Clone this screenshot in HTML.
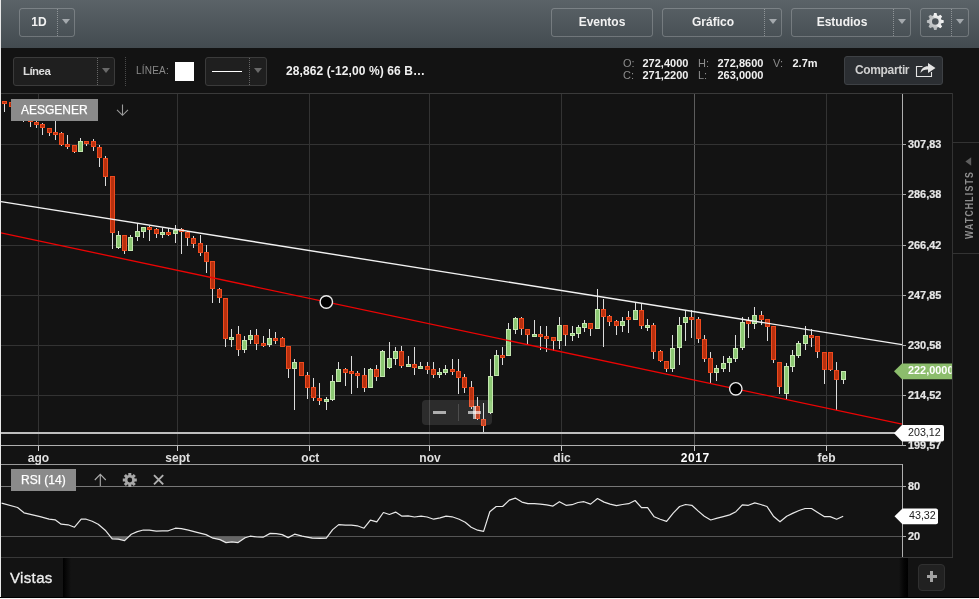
<!DOCTYPE html>
<html>
<head>
<meta charset="utf-8">
<title>Chart</title>
<style>
*{box-sizing:border-box;margin:0;padding:0}
html,body{width:979px;height:599px;overflow:hidden;background:#131313}
body{position:relative;will-change:transform;font-family:"Liberation Sans",sans-serif;color:#eee}
.abs{position:absolute}
#edgeL{left:0;top:0;width:1px;height:599px;background:#e9e9e9}
#edgeB1{left:0;top:597px;width:979px;height:1px;background:#000}
#edgeB2{left:0;top:598px;width:979px;height:1px;background:#f4f4f4}
#tb{left:1px;top:0;width:978px;height:48px;background:linear-gradient(#5b6368,#434b50)}
.btn{position:absolute;top:8px;height:29px;border:1px solid rgba(255,255,255,.22);border-radius:3px;font-weight:bold;font-size:12px;line-height:27px;color:#f2f2f2;text-align:center}
.dv{position:absolute;top:0;width:0;height:27px;border-left:1px dotted rgba(255,255,255,.35)}
.tri{position:absolute;width:8px;height:5px;background:#a4a9ad;clip-path:polygon(0 0,100% 0,50% 100%)}
.sel{position:absolute;top:57px;height:29px;border:1px solid #3b3b3b;border-radius:3px;background:#1f1f1f}
.sel .dv{border-left-color:#666}
.sel .tri{background:#696969}
.lab{position:absolute;font-size:11px;line-height:12px;color:#8c8c8c;white-space:nowrap}
.val{position:absolute;font-size:11px;line-height:12px;color:#f0f0f0;font-weight:bold;white-space:nowrap}
.ax{position:absolute;font-size:10px;line-height:12px;font-weight:bold;color:#e6e6e6;white-space:nowrap;-webkit-text-stroke:.2px #e6e6e6;transform:scale(1.09,1);transform-origin:0 50%}
.mon{position:absolute;top:451px;width:60px;margin-left:-30px;text-align:center;font-size:12px;line-height:14px;font-weight:bold;color:#e0e0e0}
</style>
</head>
<body>
<!-- top toolbar -->
<div class="abs" id="tb"></div>
<div class="btn" style="left:19px;width:56px"><span class="abs" style="left:0;width:38px;top:0">1D</span><i class="dv" style="left:37px"></i><i class="tri" style="left:42px;top:10px"></i></div>
<div class="btn" style="left:551px;width:102px">Eventos</div>
<div class="btn" style="left:662px;width:120px"><span class="abs" style="left:-1px;width:102px;top:0">Gráfico</span><i class="dv" style="left:101px"></i><i class="tri" style="left:106px;top:10px"></i></div>
<div class="btn" style="left:791px;width:120px"><span class="abs" style="left:-1px;width:102px;top:0">Estudios</span><i class="dv" style="left:101px"></i><i class="tri" style="left:106px;top:10px"></i></div>
<div class="btn" style="left:920px;width:49px"><i class="dv" style="left:30px"></i><i class="tri" style="left:35px;top:10px"></i>
<svg class="abs" style="left:4px;top:2px" width="20" height="20" viewBox="-10.3 -10.5 20 20"><defs><linearGradient id="gg" x1="0" y1="0" x2="0" y2="1"><stop offset="0" stop-color="#f6f6f6"/><stop offset="1" stop-color="#b4b7b9"/></linearGradient></defs>
<g fill="url(#gg)"><circle r="6.3"/><g id="t"><polygon points="-2,-5 -1.25,-8.4 1.25,-8.4 2,-5 2,5 1.25,8.4 -1.25,8.4 -2,5"/></g><use href="#t" transform="rotate(45)"/><use href="#t" transform="rotate(90)"/><use href="#t" transform="rotate(135)"/></g><circle r="3.3" fill="#4d5459"/></svg></div>

<!-- second toolbar -->
<div class="sel" style="left:13px;width:102px"><span class="abs" style="left:9px;top:0;line-height:27px;font-size:11.5px;font-weight:bold;color:#ddd;letter-spacing:-.55px">Línea</span><i class="dv" style="left:83px"></i><i class="tri" style="left:88px;top:10px"></i></div>
<div class="abs" style="left:125px;top:57px;width:0;height:29px;border-left:1px dotted #4a4a4a"></div>
<div class="abs" style="left:136px;top:65px;font-size:10px;line-height:12px;color:#8a8a8a;letter-spacing:.2px">LÍNEA:</div>
<div class="abs" style="left:175px;top:62px;width:19px;height:19px;background:#fff"></div>
<div class="sel" style="left:205px;width:62px"><i class="abs" style="left:6px;top:13px;width:30px;height:1px;background:#fff"></i><i class="dv" style="left:43px"></i><i class="tri" style="left:48px;top:10px"></i></div>
<div class="abs" style="left:286px;top:64px;font-size:12px;line-height:14px;font-weight:bold;color:#f0f0f0;white-space:nowrap;letter-spacing:.1px">28,862 (-12,00 %) 66 B…</div>
<div class="lab" style="left:623px;top:57px">O:</div><div class="val" style="left:642.5px;top:57px">272,4000</div>
<div class="lab" style="left:698px;top:57px">H:</div><div class="val" style="left:717.5px;top:57px">272,8600</div>
<div class="lab" style="left:773px;top:57px">V:</div><div class="val" style="left:792.5px;top:57px">2.7m</div>
<div class="lab" style="left:623px;top:69px">C:</div><div class="val" style="left:642.5px;top:69px">271,2200</div>
<div class="lab" style="left:698px;top:69px">L:</div><div class="val" style="left:717.5px;top:69px">263,0000</div>
<div class="abs" style="left:844px;top:56px;width:99px;height:29px;border:1px solid #3e4145;border-radius:3px;background:#2b2e32"><span class="abs" style="left:10px;top:0;line-height:27px;font-size:12px;font-weight:bold;color:#d0d0d0;letter-spacing:-.35px">Compartir</span>
<svg class="abs" style="left:70px;top:4px" width="22" height="17" viewBox="0 0 22 17"><path d="M7.5 5.5H1.5V15.5H16.5V11" fill="none" stroke="#e4e4e4" stroke-width="1.1"/><path d="M5.5 12C6 7.5 9 5.2 13 5.2V2L20.5 7L13 12V8.6C9.6 8.5 7.2 9.6 5.5 12Z" fill="#e4e4e4"/></svg></div>

<!-- chart -->
<svg class="abs" style="left:0;top:0" width="979" height="599" viewBox="0 0 979 599" shape-rendering="crispEdges">
<rect x="1" y="93" width="952" height="1" fill="#3a3a3a"/>
<rect x="952" y="93" width="1" height="465" fill="#333"/>
<rect x="1" y="557" width="952" height="1" fill="#383838"/>
<rect x="953" y="142" width="26" height="1" fill="#333"/><rect x="953" y="253" width="26" height="1" fill="#333"/>
<rect x="38" y="94" width="1" height="357" fill="#333"/><rect x="177" y="94" width="1" height="357" fill="#333"/><rect x="309" y="94" width="1" height="357" fill="#333"/><rect x="429" y="94" width="1" height="357" fill="#333"/><rect x="561" y="94" width="1" height="357" fill="#333"/><rect x="694" y="94" width="1" height="357" fill="#5c5c5c"/><rect x="826" y="94" width="1" height="357" fill="#333"/><rect x="38" y="446" width="1" height="5" fill="#c8c8c8"/><rect x="177" y="446" width="1" height="5" fill="#c8c8c8"/><rect x="309" y="446" width="1" height="5" fill="#c8c8c8"/><rect x="429" y="446" width="1" height="5" fill="#c8c8c8"/><rect x="561" y="446" width="1" height="5" fill="#c8c8c8"/><rect x="694" y="446" width="1" height="5" fill="#c8c8c8"/><rect x="826" y="446" width="1" height="5" fill="#c8c8c8"/>
<rect x="1" y="144" width="901" height="1" fill="#333"/><rect x="903" y="144" width="3" height="1" fill="#aaa"/><rect x="1" y="194" width="901" height="1" fill="#333"/><rect x="903" y="194" width="3" height="1" fill="#aaa"/><rect x="1" y="245" width="901" height="1" fill="#333"/><rect x="903" y="245" width="3" height="1" fill="#aaa"/><rect x="1" y="295" width="901" height="1" fill="#333"/><rect x="903" y="295" width="3" height="1" fill="#aaa"/><rect x="1" y="345" width="901" height="1" fill="#333"/><rect x="903" y="345" width="3" height="1" fill="#aaa"/><rect x="1" y="395" width="901" height="1" fill="#333"/><rect x="903" y="395" width="3" height="1" fill="#aaa"/>
<rect x="902" y="94" width="1" height="352" fill="#b0b0b0"/>
<rect x="1" y="445" width="905" height="1" fill="#b0b0b0"/>
<rect x="1" y="464" width="902" height="1" fill="#999"/>
<rect x="902" y="464" width="1" height="93" fill="#b0b0b0"/>
<rect x="1" y="486" width="901" height="1" fill="#777"/><rect x="903" y="486" width="3" height="1" fill="#aaa"/>
<rect x="1" y="536" width="901" height="1" fill="#555"/><rect x="903" y="536" width="3" height="1" fill="#aaa"/>
<rect x="4" y="101" width="1" height="11" fill="#dcdcdc"/>
<rect x="2" y="101" width="5" height="3" fill="#ee4a1e"/>
<rect x="3" y="102" width="3" height="1" fill="#b8300e"/>
<rect x="11" y="102" width="1" height="5" fill="#dcdcdc"/>
<rect x="9" y="102" width="5" height="5" fill="#ee4a1e"/>
<rect x="10" y="103" width="3" height="3" fill="#b8300e"/>
<rect x="17" y="104" width="1" height="8" fill="#dcdcdc"/>
<rect x="15" y="106" width="5" height="3" fill="#ee4a1e"/>
<rect x="16" y="107" width="3" height="1" fill="#b8300e"/>
<rect x="23" y="108" width="1" height="14" fill="#dcdcdc"/>
<rect x="21" y="110" width="5" height="4" fill="#ee4a1e"/>
<rect x="22" y="111" width="3" height="2" fill="#b8300e"/>
<rect x="30" y="117" width="1" height="10" fill="#dcdcdc"/>
<rect x="28" y="119" width="5" height="3" fill="#ee4a1e"/>
<rect x="29" y="120" width="3" height="1" fill="#b8300e"/>
<rect x="36" y="121" width="1" height="7" fill="#dcdcdc"/>
<rect x="34" y="122" width="5" height="3" fill="#ee4a1e"/>
<rect x="35" y="123" width="3" height="1" fill="#b8300e"/>
<rect x="42" y="123" width="1" height="12" fill="#dcdcdc"/>
<rect x="40" y="124" width="5" height="4" fill="#ee4a1e"/>
<rect x="41" y="125" width="3" height="2" fill="#b8300e"/>
<rect x="49" y="128" width="1" height="8" fill="#dcdcdc"/>
<rect x="47" y="128" width="5" height="5" fill="#ee4a1e"/>
<rect x="48" y="129" width="3" height="3" fill="#b8300e"/>
<rect x="55" y="115" width="1" height="25" fill="#dcdcdc"/>
<rect x="53" y="132" width="5" height="3" fill="#ee4a1e"/>
<rect x="54" y="133" width="3" height="1" fill="#b8300e"/>
<rect x="61" y="132" width="1" height="14" fill="#dcdcdc"/>
<rect x="59" y="133" width="5" height="12" fill="#ee4a1e"/>
<rect x="60" y="134" width="3" height="10" fill="#b8300e"/>
<rect x="67" y="135" width="1" height="14" fill="#dcdcdc"/>
<rect x="65" y="144" width="5" height="3" fill="#ee4a1e"/>
<rect x="66" y="145" width="3" height="1" fill="#b8300e"/>
<rect x="74" y="145" width="1" height="8" fill="#dcdcdc"/>
<rect x="72" y="145" width="5" height="7" fill="#ee4a1e"/>
<rect x="73" y="146" width="3" height="5" fill="#b8300e"/>
<rect x="80" y="138" width="1" height="14" fill="#dcdcdc"/>
<rect x="78" y="141" width="5" height="11" fill="#c4e6b0"/>
<rect x="79" y="142" width="3" height="9" fill="#8cc873"/>
<rect x="86" y="141" width="1" height="5" fill="#dcdcdc"/>
<rect x="84" y="141" width="5" height="3" fill="#ee4a1e"/>
<rect x="85" y="142" width="3" height="1" fill="#b8300e"/>
<rect x="93" y="139" width="1" height="12" fill="#dcdcdc"/>
<rect x="91" y="141" width="5" height="6" fill="#ee4a1e"/>
<rect x="92" y="142" width="3" height="4" fill="#b8300e"/>
<rect x="99" y="145" width="1" height="22" fill="#dcdcdc"/>
<rect x="97" y="147" width="5" height="11" fill="#ee4a1e"/>
<rect x="98" y="148" width="3" height="9" fill="#b8300e"/>
<rect x="105" y="156" width="1" height="30" fill="#dcdcdc"/>
<rect x="103" y="158" width="5" height="19" fill="#ee4a1e"/>
<rect x="104" y="159" width="3" height="17" fill="#b8300e"/>
<rect x="112" y="176" width="1" height="73" fill="#dcdcdc"/>
<rect x="110" y="176" width="5" height="57" fill="#ee4a1e"/>
<rect x="111" y="177" width="3" height="55" fill="#b8300e"/>
<rect x="118" y="231" width="1" height="18" fill="#dcdcdc"/>
<rect x="116" y="235" width="5" height="13" fill="#c4e6b0"/>
<rect x="117" y="236" width="3" height="11" fill="#8cc873"/>
<rect x="124" y="235" width="1" height="19" fill="#dcdcdc"/>
<rect x="122" y="235" width="5" height="16" fill="#ee4a1e"/>
<rect x="123" y="236" width="3" height="14" fill="#b8300e"/>
<rect x="130" y="235" width="1" height="16" fill="#dcdcdc"/>
<rect x="128" y="237" width="5" height="14" fill="#c4e6b0"/>
<rect x="129" y="238" width="3" height="12" fill="#8cc873"/>
<rect x="137" y="223" width="1" height="18" fill="#dcdcdc"/>
<rect x="135" y="231" width="5" height="6" fill="#c4e6b0"/>
<rect x="136" y="232" width="3" height="4" fill="#8cc873"/>
<rect x="143" y="227" width="1" height="11" fill="#dcdcdc"/>
<rect x="141" y="227" width="5" height="5" fill="#c4e6b0"/>
<rect x="142" y="228" width="3" height="3" fill="#8cc873"/>
<rect x="149" y="226" width="1" height="15" fill="#dcdcdc"/>
<rect x="147" y="227" width="5" height="3" fill="#ee4a1e"/>
<rect x="148" y="228" width="3" height="1" fill="#b8300e"/>
<rect x="156" y="228" width="1" height="10" fill="#dcdcdc"/>
<rect x="154" y="229" width="5" height="5" fill="#ee4a1e"/>
<rect x="155" y="230" width="3" height="3" fill="#b8300e"/>
<rect x="162" y="228" width="1" height="10" fill="#dcdcdc"/>
<rect x="160" y="232" width="5" height="3" fill="#c4e6b0"/>
<rect x="161" y="233" width="3" height="1" fill="#8cc873"/>
<rect x="168" y="228" width="1" height="8" fill="#dcdcdc"/>
<rect x="166" y="232" width="5" height="3" fill="#ee4a1e"/>
<rect x="167" y="233" width="3" height="1" fill="#b8300e"/>
<rect x="175" y="225" width="1" height="18" fill="#dcdcdc"/>
<rect x="173" y="230" width="5" height="4" fill="#c4e6b0"/>
<rect x="174" y="231" width="3" height="2" fill="#8cc873"/>
<rect x="181" y="228" width="1" height="26" fill="#dcdcdc"/>
<rect x="179" y="229" width="5" height="3" fill="#ee4a1e"/>
<rect x="180" y="230" width="3" height="1" fill="#b8300e"/>
<rect x="187" y="231" width="1" height="15" fill="#dcdcdc"/>
<rect x="185" y="232" width="5" height="6" fill="#ee4a1e"/>
<rect x="186" y="233" width="3" height="4" fill="#b8300e"/>
<rect x="193" y="236" width="1" height="12" fill="#dcdcdc"/>
<rect x="191" y="238" width="5" height="6" fill="#ee4a1e"/>
<rect x="192" y="239" width="3" height="4" fill="#b8300e"/>
<rect x="200" y="235" width="1" height="21" fill="#dcdcdc"/>
<rect x="198" y="243" width="5" height="10" fill="#ee4a1e"/>
<rect x="199" y="244" width="3" height="8" fill="#b8300e"/>
<rect x="206" y="245" width="1" height="28" fill="#dcdcdc"/>
<rect x="204" y="252" width="5" height="10" fill="#ee4a1e"/>
<rect x="205" y="253" width="3" height="8" fill="#b8300e"/>
<rect x="212" y="261" width="1" height="42" fill="#dcdcdc"/>
<rect x="210" y="261" width="5" height="28" fill="#ee4a1e"/>
<rect x="211" y="262" width="3" height="26" fill="#b8300e"/>
<rect x="219" y="288" width="1" height="15" fill="#dcdcdc"/>
<rect x="217" y="289" width="5" height="9" fill="#ee4a1e"/>
<rect x="218" y="290" width="3" height="7" fill="#b8300e"/>
<rect x="225" y="298" width="1" height="49" fill="#dcdcdc"/>
<rect x="223" y="298" width="5" height="41" fill="#ee4a1e"/>
<rect x="224" y="299" width="3" height="39" fill="#b8300e"/>
<rect x="231" y="329" width="1" height="18" fill="#dcdcdc"/>
<rect x="229" y="337" width="5" height="3" fill="#c4e6b0"/>
<rect x="230" y="338" width="3" height="1" fill="#8cc873"/>
<rect x="238" y="326" width="1" height="30" fill="#dcdcdc"/>
<rect x="236" y="334" width="5" height="16" fill="#ee4a1e"/>
<rect x="237" y="335" width="3" height="14" fill="#b8300e"/>
<rect x="244" y="336" width="1" height="17" fill="#dcdcdc"/>
<rect x="242" y="340" width="5" height="10" fill="#c4e6b0"/>
<rect x="243" y="341" width="3" height="8" fill="#8cc873"/>
<rect x="250" y="330" width="1" height="14" fill="#dcdcdc"/>
<rect x="248" y="335" width="5" height="5" fill="#c4e6b0"/>
<rect x="249" y="336" width="3" height="3" fill="#8cc873"/>
<rect x="256" y="329" width="1" height="21" fill="#dcdcdc"/>
<rect x="254" y="335" width="5" height="9" fill="#ee4a1e"/>
<rect x="255" y="336" width="3" height="7" fill="#b8300e"/>
<rect x="263" y="336" width="1" height="11" fill="#dcdcdc"/>
<rect x="261" y="343" width="5" height="3" fill="#ee4a1e"/>
<rect x="262" y="344" width="3" height="1" fill="#b8300e"/>
<rect x="269" y="329" width="1" height="18" fill="#dcdcdc"/>
<rect x="267" y="338" width="5" height="7" fill="#c4e6b0"/>
<rect x="268" y="339" width="3" height="5" fill="#8cc873"/>
<rect x="275" y="332" width="1" height="12" fill="#dcdcdc"/>
<rect x="273" y="338" width="5" height="3" fill="#ee4a1e"/>
<rect x="274" y="339" width="3" height="1" fill="#b8300e"/>
<rect x="282" y="337" width="1" height="10" fill="#dcdcdc"/>
<rect x="280" y="338" width="5" height="9" fill="#ee4a1e"/>
<rect x="281" y="339" width="3" height="7" fill="#b8300e"/>
<rect x="288" y="346" width="1" height="32" fill="#dcdcdc"/>
<rect x="286" y="346" width="5" height="23" fill="#ee4a1e"/>
<rect x="287" y="347" width="3" height="21" fill="#b8300e"/>
<rect x="294" y="359" width="1" height="51" fill="#dcdcdc"/>
<rect x="292" y="362" width="5" height="7" fill="#c4e6b0"/>
<rect x="293" y="363" width="3" height="5" fill="#8cc873"/>
<rect x="301" y="362" width="1" height="14" fill="#dcdcdc"/>
<rect x="299" y="362" width="5" height="14" fill="#ee4a1e"/>
<rect x="300" y="363" width="3" height="12" fill="#b8300e"/>
<rect x="307" y="372" width="1" height="27" fill="#dcdcdc"/>
<rect x="305" y="375" width="5" height="13" fill="#ee4a1e"/>
<rect x="306" y="376" width="3" height="11" fill="#b8300e"/>
<rect x="313" y="378" width="1" height="23" fill="#dcdcdc"/>
<rect x="311" y="387" width="5" height="11" fill="#ee4a1e"/>
<rect x="312" y="388" width="3" height="9" fill="#b8300e"/>
<rect x="319" y="383" width="1" height="22" fill="#dcdcdc"/>
<rect x="317" y="398" width="5" height="3" fill="#ee4a1e"/>
<rect x="318" y="399" width="3" height="1" fill="#b8300e"/>
<rect x="326" y="397" width="1" height="13" fill="#dcdcdc"/>
<rect x="324" y="399" width="5" height="3" fill="#c4e6b0"/>
<rect x="325" y="400" width="3" height="1" fill="#8cc873"/>
<rect x="332" y="375" width="1" height="26" fill="#dcdcdc"/>
<rect x="330" y="381" width="5" height="19" fill="#c4e6b0"/>
<rect x="331" y="382" width="3" height="17" fill="#8cc873"/>
<rect x="338" y="362" width="1" height="20" fill="#dcdcdc"/>
<rect x="336" y="369" width="5" height="13" fill="#c4e6b0"/>
<rect x="337" y="370" width="3" height="11" fill="#8cc873"/>
<rect x="345" y="368" width="1" height="18" fill="#dcdcdc"/>
<rect x="343" y="369" width="5" height="4" fill="#ee4a1e"/>
<rect x="344" y="370" width="3" height="2" fill="#b8300e"/>
<rect x="351" y="356" width="1" height="38" fill="#dcdcdc"/>
<rect x="349" y="371" width="5" height="3" fill="#ee4a1e"/>
<rect x="350" y="372" width="3" height="1" fill="#b8300e"/>
<rect x="357" y="371" width="1" height="17" fill="#dcdcdc"/>
<rect x="355" y="373" width="5" height="3" fill="#ee4a1e"/>
<rect x="356" y="374" width="3" height="1" fill="#b8300e"/>
<rect x="364" y="368" width="1" height="24" fill="#dcdcdc"/>
<rect x="362" y="375" width="5" height="13" fill="#ee4a1e"/>
<rect x="363" y="376" width="3" height="11" fill="#b8300e"/>
<rect x="370" y="368" width="1" height="20" fill="#dcdcdc"/>
<rect x="368" y="369" width="5" height="19" fill="#c4e6b0"/>
<rect x="369" y="370" width="3" height="17" fill="#8cc873"/>
<rect x="376" y="365" width="1" height="16" fill="#dcdcdc"/>
<rect x="374" y="369" width="5" height="8" fill="#ee4a1e"/>
<rect x="375" y="370" width="3" height="6" fill="#b8300e"/>
<rect x="382" y="350" width="1" height="27" fill="#dcdcdc"/>
<rect x="380" y="351" width="5" height="26" fill="#c4e6b0"/>
<rect x="381" y="352" width="3" height="24" fill="#8cc873"/>
<rect x="389" y="342" width="1" height="27" fill="#dcdcdc"/>
<rect x="387" y="358" width="5" height="10" fill="#c4e6b0"/>
<rect x="388" y="359" width="3" height="8" fill="#8cc873"/>
<rect x="395" y="347" width="1" height="18" fill="#dcdcdc"/>
<rect x="393" y="351" width="5" height="8" fill="#c4e6b0"/>
<rect x="394" y="352" width="3" height="6" fill="#8cc873"/>
<rect x="401" y="346" width="1" height="22" fill="#dcdcdc"/>
<rect x="399" y="351" width="5" height="15" fill="#ee4a1e"/>
<rect x="400" y="352" width="3" height="13" fill="#b8300e"/>
<rect x="408" y="356" width="1" height="11" fill="#dcdcdc"/>
<rect x="406" y="364" width="5" height="3" fill="#c4e6b0"/>
<rect x="407" y="365" width="3" height="1" fill="#8cc873"/>
<rect x="414" y="347" width="1" height="28" fill="#dcdcdc"/>
<rect x="412" y="364" width="5" height="4" fill="#ee4a1e"/>
<rect x="413" y="365" width="3" height="2" fill="#b8300e"/>
<rect x="420" y="362" width="1" height="7" fill="#dcdcdc"/>
<rect x="418" y="366" width="5" height="3" fill="#c4e6b0"/>
<rect x="419" y="367" width="3" height="1" fill="#8cc873"/>
<rect x="427" y="362" width="1" height="12" fill="#dcdcdc"/>
<rect x="425" y="366" width="5" height="4" fill="#ee4a1e"/>
<rect x="426" y="367" width="3" height="2" fill="#b8300e"/>
<rect x="433" y="362" width="1" height="16" fill="#dcdcdc"/>
<rect x="431" y="369" width="5" height="6" fill="#ee4a1e"/>
<rect x="432" y="370" width="3" height="4" fill="#b8300e"/>
<rect x="439" y="368" width="1" height="10" fill="#dcdcdc"/>
<rect x="437" y="372" width="5" height="3" fill="#c4e6b0"/>
<rect x="438" y="373" width="3" height="1" fill="#8cc873"/>
<rect x="445" y="365" width="1" height="10" fill="#dcdcdc"/>
<rect x="443" y="369" width="5" height="4" fill="#c4e6b0"/>
<rect x="444" y="370" width="3" height="2" fill="#8cc873"/>
<rect x="452" y="359" width="1" height="16" fill="#dcdcdc"/>
<rect x="450" y="369" width="5" height="3" fill="#ee4a1e"/>
<rect x="451" y="370" width="3" height="1" fill="#b8300e"/>
<rect x="458" y="359" width="1" height="35" fill="#dcdcdc"/>
<rect x="456" y="371" width="5" height="7" fill="#ee4a1e"/>
<rect x="457" y="372" width="3" height="5" fill="#b8300e"/>
<rect x="464" y="374" width="1" height="19" fill="#dcdcdc"/>
<rect x="462" y="377" width="5" height="11" fill="#ee4a1e"/>
<rect x="463" y="378" width="3" height="9" fill="#b8300e"/>
<rect x="471" y="381" width="1" height="28" fill="#dcdcdc"/>
<rect x="469" y="387" width="5" height="20" fill="#ee4a1e"/>
<rect x="470" y="388" width="3" height="18" fill="#b8300e"/>
<rect x="477" y="397" width="1" height="23" fill="#dcdcdc"/>
<rect x="475" y="406" width="5" height="13" fill="#ee4a1e"/>
<rect x="476" y="407" width="3" height="11" fill="#b8300e"/>
<rect x="483" y="403" width="1" height="31" fill="#dcdcdc"/>
<rect x="481" y="419" width="5" height="7" fill="#ee4a1e"/>
<rect x="482" y="420" width="3" height="5" fill="#b8300e"/>
<rect x="490" y="359" width="1" height="55" fill="#dcdcdc"/>
<rect x="488" y="376" width="5" height="37" fill="#c4e6b0"/>
<rect x="489" y="377" width="3" height="35" fill="#8cc873"/>
<rect x="496" y="350" width="1" height="26" fill="#dcdcdc"/>
<rect x="494" y="355" width="5" height="21" fill="#c4e6b0"/>
<rect x="495" y="356" width="3" height="19" fill="#8cc873"/>
<rect x="502" y="347" width="1" height="18" fill="#dcdcdc"/>
<rect x="500" y="355" width="5" height="3" fill="#ee4a1e"/>
<rect x="501" y="356" width="3" height="1" fill="#b8300e"/>
<rect x="508" y="323" width="1" height="33" fill="#dcdcdc"/>
<rect x="506" y="329" width="5" height="27" fill="#c4e6b0"/>
<rect x="507" y="330" width="3" height="25" fill="#8cc873"/>
<rect x="515" y="317" width="1" height="17" fill="#dcdcdc"/>
<rect x="513" y="318" width="5" height="12" fill="#c4e6b0"/>
<rect x="514" y="319" width="3" height="10" fill="#8cc873"/>
<rect x="521" y="317" width="1" height="18" fill="#dcdcdc"/>
<rect x="519" y="318" width="5" height="11" fill="#ee4a1e"/>
<rect x="520" y="319" width="3" height="9" fill="#b8300e"/>
<rect x="527" y="329" width="1" height="16" fill="#dcdcdc"/>
<rect x="525" y="329" width="5" height="6" fill="#ee4a1e"/>
<rect x="526" y="330" width="3" height="4" fill="#b8300e"/>
<rect x="534" y="320" width="1" height="17" fill="#dcdcdc"/>
<rect x="532" y="334" width="5" height="3" fill="#c4e6b0"/>
<rect x="533" y="335" width="3" height="1" fill="#8cc873"/>
<rect x="540" y="326" width="1" height="24" fill="#dcdcdc"/>
<rect x="538" y="334" width="5" height="3" fill="#ee4a1e"/>
<rect x="539" y="335" width="3" height="1" fill="#b8300e"/>
<rect x="546" y="326" width="1" height="26" fill="#dcdcdc"/>
<rect x="544" y="336" width="5" height="3" fill="#ee4a1e"/>
<rect x="545" y="337" width="3" height="1" fill="#b8300e"/>
<rect x="553" y="337" width="1" height="14" fill="#dcdcdc"/>
<rect x="551" y="337" width="5" height="4" fill="#ee4a1e"/>
<rect x="552" y="338" width="3" height="2" fill="#b8300e"/>
<rect x="559" y="317" width="1" height="32" fill="#dcdcdc"/>
<rect x="557" y="325" width="5" height="16" fill="#c4e6b0"/>
<rect x="558" y="326" width="3" height="14" fill="#8cc873"/>
<rect x="565" y="325" width="1" height="21" fill="#dcdcdc"/>
<rect x="563" y="325" width="5" height="10" fill="#ee4a1e"/>
<rect x="564" y="326" width="3" height="8" fill="#b8300e"/>
<rect x="572" y="326" width="1" height="15" fill="#dcdcdc"/>
<rect x="570" y="333" width="5" height="3" fill="#c4e6b0"/>
<rect x="571" y="334" width="3" height="1" fill="#8cc873"/>
<rect x="578" y="325" width="1" height="13" fill="#dcdcdc"/>
<rect x="576" y="327" width="5" height="7" fill="#c4e6b0"/>
<rect x="577" y="328" width="3" height="5" fill="#8cc873"/>
<rect x="584" y="320" width="1" height="12" fill="#dcdcdc"/>
<rect x="582" y="323" width="5" height="5" fill="#c4e6b0"/>
<rect x="583" y="324" width="3" height="3" fill="#8cc873"/>
<rect x="590" y="323" width="1" height="13" fill="#dcdcdc"/>
<rect x="588" y="323" width="5" height="6" fill="#ee4a1e"/>
<rect x="589" y="324" width="3" height="4" fill="#b8300e"/>
<rect x="597" y="289" width="1" height="40" fill="#dcdcdc"/>
<rect x="595" y="309" width="5" height="20" fill="#c4e6b0"/>
<rect x="596" y="310" width="3" height="18" fill="#8cc873"/>
<rect x="603" y="299" width="1" height="48" fill="#dcdcdc"/>
<rect x="601" y="309" width="5" height="8" fill="#ee4a1e"/>
<rect x="602" y="310" width="3" height="6" fill="#b8300e"/>
<rect x="609" y="315" width="1" height="11" fill="#dcdcdc"/>
<rect x="607" y="316" width="5" height="6" fill="#ee4a1e"/>
<rect x="608" y="317" width="3" height="4" fill="#b8300e"/>
<rect x="616" y="320" width="1" height="15" fill="#dcdcdc"/>
<rect x="614" y="321" width="5" height="5" fill="#ee4a1e"/>
<rect x="615" y="322" width="3" height="3" fill="#b8300e"/>
<rect x="622" y="317" width="1" height="15" fill="#dcdcdc"/>
<rect x="620" y="321" width="5" height="5" fill="#c4e6b0"/>
<rect x="621" y="322" width="3" height="3" fill="#8cc873"/>
<rect x="628" y="311" width="1" height="22" fill="#dcdcdc"/>
<rect x="626" y="317" width="5" height="3" fill="#ee4a1e"/>
<rect x="627" y="318" width="3" height="1" fill="#b8300e"/>
<rect x="635" y="303" width="1" height="17" fill="#dcdcdc"/>
<rect x="633" y="310" width="5" height="10" fill="#c4e6b0"/>
<rect x="634" y="311" width="3" height="8" fill="#8cc873"/>
<rect x="641" y="304" width="1" height="25" fill="#dcdcdc"/>
<rect x="639" y="310" width="5" height="16" fill="#ee4a1e"/>
<rect x="640" y="311" width="3" height="14" fill="#b8300e"/>
<rect x="647" y="319" width="1" height="12" fill="#dcdcdc"/>
<rect x="645" y="325" width="5" height="3" fill="#c4e6b0"/>
<rect x="646" y="326" width="3" height="1" fill="#8cc873"/>
<rect x="653" y="323" width="1" height="36" fill="#dcdcdc"/>
<rect x="651" y="325" width="5" height="27" fill="#ee4a1e"/>
<rect x="652" y="326" width="3" height="25" fill="#b8300e"/>
<rect x="660" y="350" width="1" height="12" fill="#dcdcdc"/>
<rect x="658" y="351" width="5" height="10" fill="#ee4a1e"/>
<rect x="659" y="352" width="3" height="8" fill="#b8300e"/>
<rect x="666" y="361" width="1" height="11" fill="#dcdcdc"/>
<rect x="664" y="361" width="5" height="8" fill="#ee4a1e"/>
<rect x="665" y="362" width="3" height="6" fill="#b8300e"/>
<rect x="672" y="335" width="1" height="37" fill="#dcdcdc"/>
<rect x="670" y="348" width="5" height="21" fill="#c4e6b0"/>
<rect x="671" y="349" width="3" height="19" fill="#8cc873"/>
<rect x="679" y="317" width="1" height="48" fill="#dcdcdc"/>
<rect x="677" y="325" width="5" height="23" fill="#c4e6b0"/>
<rect x="678" y="326" width="3" height="21" fill="#8cc873"/>
<rect x="685" y="311" width="1" height="30" fill="#dcdcdc"/>
<rect x="683" y="317" width="5" height="6" fill="#c4e6b0"/>
<rect x="684" y="318" width="3" height="4" fill="#8cc873"/>
<rect x="691" y="310" width="1" height="28" fill="#dcdcdc"/>
<rect x="689" y="317" width="5" height="3" fill="#ee4a1e"/>
<rect x="690" y="318" width="3" height="1" fill="#b8300e"/>
<rect x="698" y="317" width="1" height="26" fill="#dcdcdc"/>
<rect x="696" y="319" width="5" height="20" fill="#ee4a1e"/>
<rect x="697" y="320" width="3" height="18" fill="#b8300e"/>
<rect x="704" y="335" width="1" height="27" fill="#dcdcdc"/>
<rect x="702" y="339" width="5" height="20" fill="#ee4a1e"/>
<rect x="703" y="340" width="3" height="18" fill="#b8300e"/>
<rect x="710" y="352" width="1" height="31" fill="#dcdcdc"/>
<rect x="708" y="358" width="5" height="15" fill="#ee4a1e"/>
<rect x="709" y="359" width="3" height="13" fill="#b8300e"/>
<rect x="716" y="365" width="1" height="16" fill="#dcdcdc"/>
<rect x="714" y="368" width="5" height="5" fill="#c4e6b0"/>
<rect x="715" y="369" width="3" height="3" fill="#8cc873"/>
<rect x="723" y="356" width="1" height="16" fill="#dcdcdc"/>
<rect x="721" y="363" width="5" height="6" fill="#c4e6b0"/>
<rect x="722" y="364" width="3" height="4" fill="#8cc873"/>
<rect x="729" y="356" width="1" height="16" fill="#dcdcdc"/>
<rect x="727" y="358" width="5" height="5" fill="#c4e6b0"/>
<rect x="728" y="359" width="3" height="3" fill="#8cc873"/>
<rect x="735" y="335" width="1" height="27" fill="#dcdcdc"/>
<rect x="733" y="348" width="5" height="11" fill="#c4e6b0"/>
<rect x="734" y="349" width="3" height="9" fill="#8cc873"/>
<rect x="742" y="317" width="1" height="33" fill="#dcdcdc"/>
<rect x="740" y="322" width="5" height="26" fill="#c4e6b0"/>
<rect x="741" y="323" width="3" height="24" fill="#8cc873"/>
<rect x="748" y="317" width="1" height="21" fill="#dcdcdc"/>
<rect x="746" y="320" width="5" height="4" fill="#ee4a1e"/>
<rect x="747" y="321" width="3" height="2" fill="#b8300e"/>
<rect x="754" y="307" width="1" height="22" fill="#dcdcdc"/>
<rect x="752" y="315" width="5" height="9" fill="#c4e6b0"/>
<rect x="753" y="316" width="3" height="7" fill="#8cc873"/>
<rect x="761" y="311" width="1" height="14" fill="#dcdcdc"/>
<rect x="759" y="315" width="5" height="5" fill="#ee4a1e"/>
<rect x="760" y="316" width="3" height="3" fill="#b8300e"/>
<rect x="767" y="319" width="1" height="22" fill="#dcdcdc"/>
<rect x="765" y="319" width="5" height="8" fill="#ee4a1e"/>
<rect x="766" y="320" width="3" height="6" fill="#b8300e"/>
<rect x="773" y="326" width="1" height="37" fill="#dcdcdc"/>
<rect x="771" y="326" width="5" height="34" fill="#ee4a1e"/>
<rect x="772" y="327" width="3" height="32" fill="#b8300e"/>
<rect x="779" y="362" width="1" height="32" fill="#dcdcdc"/>
<rect x="777" y="362" width="5" height="25" fill="#ee4a1e"/>
<rect x="778" y="363" width="3" height="23" fill="#b8300e"/>
<rect x="786" y="363" width="1" height="37" fill="#dcdcdc"/>
<rect x="784" y="366" width="5" height="28" fill="#c4e6b0"/>
<rect x="785" y="367" width="3" height="26" fill="#8cc873"/>
<rect x="792" y="350" width="1" height="22" fill="#dcdcdc"/>
<rect x="790" y="355" width="5" height="12" fill="#c4e6b0"/>
<rect x="791" y="356" width="3" height="10" fill="#8cc873"/>
<rect x="798" y="341" width="1" height="17" fill="#dcdcdc"/>
<rect x="796" y="343" width="5" height="13" fill="#c4e6b0"/>
<rect x="797" y="344" width="3" height="11" fill="#8cc873"/>
<rect x="805" y="326" width="1" height="24" fill="#dcdcdc"/>
<rect x="803" y="335" width="5" height="9" fill="#c4e6b0"/>
<rect x="804" y="336" width="3" height="7" fill="#8cc873"/>
<rect x="811" y="329" width="1" height="18" fill="#dcdcdc"/>
<rect x="809" y="335" width="5" height="3" fill="#ee4a1e"/>
<rect x="810" y="336" width="3" height="1" fill="#b8300e"/>
<rect x="817" y="336" width="1" height="22" fill="#dcdcdc"/>
<rect x="815" y="336" width="5" height="16" fill="#ee4a1e"/>
<rect x="816" y="337" width="3" height="14" fill="#b8300e"/>
<rect x="824" y="352" width="1" height="32" fill="#dcdcdc"/>
<rect x="822" y="352" width="5" height="18" fill="#ee4a1e"/>
<rect x="823" y="353" width="3" height="16" fill="#b8300e"/>
<rect x="830" y="352" width="1" height="19" fill="#dcdcdc"/>
<rect x="828" y="352" width="5" height="18" fill="#ee4a1e"/>
<rect x="829" y="353" width="3" height="16" fill="#b8300e"/>
<rect x="836" y="362" width="1" height="48" fill="#dcdcdc"/>
<rect x="834" y="370" width="5" height="10" fill="#ee4a1e"/>
<rect x="835" y="371" width="3" height="8" fill="#b8300e"/>
<rect x="843" y="371" width="1" height="13" fill="#dcdcdc"/>
<rect x="841" y="371" width="5" height="9" fill="#c4e6b0"/>
<rect x="842" y="372" width="3" height="7" fill="#8cc873"/>
<rect x="1" y="432" width="902" height="2" fill="#bebebe"/>
<g shape-rendering="auto">
<line x1="1" y1="201.6" x2="902" y2="344.6" stroke="#f2f2f2" stroke-width="1.4"/>
<line x1="1" y1="232.9" x2="902" y2="424.1" stroke="#ec0404" stroke-width="1.3"/>
<circle cx="326.3" cy="302" r="6.2" fill="#000" stroke="#ececec" stroke-width="1.4"/>
<circle cx="735.8" cy="388.8" r="6.2" fill="#000" stroke="#ececec" stroke-width="1.4"/>
<polygon points="110.3,536.5 112.2,538.8 118.2,539.2 124.6,540.6 128.9,536.5" fill="#666"/><polygon points="209.7,536.5 213.0,538.2 220.0,539.6 226.0,542.6 232.0,541.8 238.1,542.6 245.1,537.8 249.2,536.5" fill="#666"/><polygon points="252.7,536.5 257.1,537.0 263.1,537.2 264.4,536.5" fill="#666"/><polygon points="286.0,536.5 288.2,537.6 290.3,536.5" fill="#666"/><polygon points="303.7,536.5 312.2,538.2 320.3,538.4 326.3,538.2 327.6,536.5" fill="#666"/>
<polyline points="1.6,503.1 17.6,507.5 24.0,512.8 40.1,516.6 49.1,519.2 55.1,519.8 61.1,524.2 68.1,524.8 74.5,527.2 81.2,519.2 86.2,519.2 92.2,521.2 98.2,524.2 105.2,530.2 112.2,538.8 118.2,539.2 124.6,540.6 131.3,534.2 137.3,531.6 143.3,530.0 149.3,530.2 156.3,531.2 162.3,530.8 168.3,530.8 175.4,528.2 181.4,528.6 188.4,530.2 196.0,532.2 206.0,534.6 213.0,538.2 220.0,539.6 226.0,542.6 232.0,541.8 238.1,542.6 245.1,537.8 250.1,536.2 257.1,537.0 263.1,537.2 270.2,533.4 276.2,533.6 282.2,534.6 288.2,537.6 294.6,534.2 302.2,536.2 312.2,538.2 320.3,538.4 326.3,538.2 332.7,529.6 338.7,524.6 345.3,525.2 351.3,525.2 357.3,525.8 364.0,528.2 370.4,520.2 376.8,521.8 383.4,512.5 389.4,514.5 395.6,512.1 402.0,516.2 408.1,515.8 414.5,517.0 421.1,516.2 427.1,517.0 433.7,519.2 440.1,517.8 446.1,516.2 452.1,516.8 459.2,519.2 465.2,522.2 471.2,527.2 477.6,530.2 483.6,531.4 489.8,511.7 496.2,506.5 502.6,506.5 509.3,500.1 515.3,498.1 521.9,502.1 527.9,503.7 534.3,503.7 540.3,504.1 546.7,504.9 553.0,506.1 559.4,501.7 566.0,505.3 572.0,504.7 578.0,502.5 584.0,501.7 590.6,504.1 597.5,498.5 604.1,502.1 610.1,504.1 616.5,505.7 622.5,504.5 628.7,503.7 635.1,500.5 641.5,507.7 647.6,507.7 654.2,516.8 660.2,519.2 666.6,521.4 673.2,513.1 679.6,506.5 685.6,504.5 691.8,505.3 698.3,511.1 704.3,516.2 710.7,520.0 717.3,518.2 723.3,516.6 729.7,514.9 735.9,511.7 742.3,504.9 748.4,505.3 754.8,502.9 760.8,504.5 767.0,506.5 773.4,516.2 780.0,521.8 786.7,516.2 793.1,513.1 799.1,510.5 805.1,508.5 811.5,508.5 817.7,512.5 824.1,516.6 830.1,516.6 836.6,519.2 843.2,516.2" fill="none" stroke="#e8e8e8" stroke-width="1.2" stroke-linejoin="round"/>
<!-- price tags -->
<polygon points="894,371.3 902,363.4 952,363.4 952,379.2 902,379.2" fill="#8cbd6c"/>
<path d="M894 433.2L902 425H942Q944 425 944 427V439.500Q944 441.500 942 441.500H902Z" fill="#fff"/>
<path d="M894.500 516.300L902.500 508.500H936Q938 508.500 938 510.500V522.200Q938 524.200 936 524.200H902.500Z" fill="#fff"/>
<!-- arrows / icons -->
<path d="M122.500 104.500V115M117 109.800L122.500 115.300L128 109.800" fill="none" stroke="#9a9a9a" stroke-width="1.1"/>
<path d="M100.300 486V474.500M94.800 480L100.300 474.300L105.800 480" fill="none" stroke="#aaa" stroke-width="1.1"/>
<path d="M154 475.200L163.200 484.400M163.200 475.200L154 484.400" fill="none" stroke="#b0b0b0" stroke-width="1.9"/>
<g transform="translate(129.800 480)" fill="#a8a8a8"><circle r="5"/><rect x="-1.500" y="-7" width="3" height="14"/><rect x="-1.500" y="-7" width="3" height="14" transform="rotate(45)"/><rect x="-1.500" y="-7" width="3" height="14" transform="rotate(90)"/><rect x="-1.500" y="-7" width="3" height="14" transform="rotate(135)"/><circle r="2.400" fill="#131313"/></g>
<polygon points="965.400,161.500 971.200,157.200 971.200,165.800" fill="#5e5e5e"/>
</g>
</svg>

<!-- labels on chart -->
<div class="abs" style="left:11px;top:99px;width:87px;height:22px;background:#8a8a8a;color:#fff;font-size:12px;line-height:22px;padding-left:10px;-webkit-text-stroke:.25px #fff">AESGENER</div>
<div class="abs" style="left:11px;top:469px;width:65px;height:22px;background:#8a8a8a;color:#fff;font-size:12px;line-height:22px;padding-left:10px;-webkit-text-stroke:.25px #fff">RSI (14)</div>
<div class="ax" style="left:907.5px;top:138.500px">307,83</div>
<div class="ax" style="left:907.5px;top:188.500px">286,38</div>
<div class="ax" style="left:907.5px;top:239.500px">266,42</div>
<div class="ax" style="left:907.5px;top:289.500px">247,85</div>
<div class="ax" style="left:907.5px;top:339.500px">230,58</div>
<div class="ax" style="left:907.5px;top:389.500px">214,52</div>
<div class="ax" style="left:907.5px;top:439.500px">199,57</div>
<div class="ax" style="left:907.5px;top:480.500px">80</div>
<div class="ax" style="left:907.5px;top:530.500px">20</div>
<div class="abs" style="left:907.5px;top:365.300px;width:40.400px;overflow:hidden;font-size:10px;line-height:12px;font-weight:bold;color:#fff;transform:scale(1.09,1);transform-origin:0 50%;white-space:nowrap">222,0000</div>
<div class="abs" style="left:908px;top:427.300px;font-size:10px;line-height:12px;color:#222;transform:scale(1.07,1);transform-origin:0 50%;white-space:nowrap">203,12</div>
<div class="abs" style="left:908.5px;top:510.300px;font-size:10px;line-height:12px;color:#222;transform:scale(1.07,1);transform-origin:0 50%;white-space:nowrap">43,32</div>
<div class="mon" style="left:38.500px">ago</div>
<div class="mon" style="left:177.700px">sept</div>
<div class="mon" style="left:310.300px">oct</div>
<div class="mon" style="left:430px">nov</div>
<div class="mon" style="left:562px">dic</div>
<div class="mon" style="left:695.200px;color:#fff;letter-spacing:.6px">2017</div>
<div class="mon" style="left:826.500px">feb</div>

<!-- zoom control -->
<div class="abs" style="left:422px;top:400px;width:70px;height:25px;border-radius:4px;background:rgba(255,255,255,.11)">
<i class="abs" style="left:11px;top:11px;width:13px;height:3px;background:rgba(255,255,255,.62)"></i>
<i class="abs" style="left:36px;top:4px;width:1px;height:17px;background:rgba(255,255,255,.16)"></i>
<i class="abs" style="left:46px;top:11px;width:13px;height:3px;background:rgba(255,255,255,.62)"></i>
<i class="abs" style="left:51px;top:6px;width:3px;height:13px;background:rgba(255,255,255,.62)"></i>
</div>

<!-- watchlists -->
<div class="abs" style="left:968.500px;top:204.500px;width:0;height:0"><div style="position:absolute;left:-50px;top:-7px;width:100px;height:14px;line-height:14px;text-align:center;font-size:11px;font-weight:bold;letter-spacing:1.4px;color:#909090;transform:rotate(-90deg) scaleX(.8);white-space:nowrap">WATCHLISTS</div></div>

<!-- bottom bar -->
<div class="abs" style="left:63px;top:558px;width:8px;height:39px;background:linear-gradient(90deg,#000 0,#050505 25%,#131313 100%)"></div>
<div class="abs" style="left:899px;top:558px;width:9px;height:39px;background:linear-gradient(90deg,#131313 0,#050505 55%,#000 100%)"></div>
<div class="abs" style="left:10px;top:569px;font-size:15px;line-height:18px;color:#f0f0f0;letter-spacing:.35px;-webkit-text-stroke:.3px #f0f0f0">Vistas</div>
<div class="abs" style="left:918px;top:564px;width:27px;height:27px;border:1px solid #303030;border-radius:4px;background:#212121">
<i class="abs" style="left:7.500px;top:10px;width:10px;height:3px;background:#a2a2a2"></i><i class="abs" style="left:11px;top:6px;width:3px;height:11px;background:#a2a2a2"></i></div>

<div class="abs" id="edgeL"></div><div class="abs" id="edgeB1"></div><div class="abs" id="edgeB2"></div>
</body>
</html>
